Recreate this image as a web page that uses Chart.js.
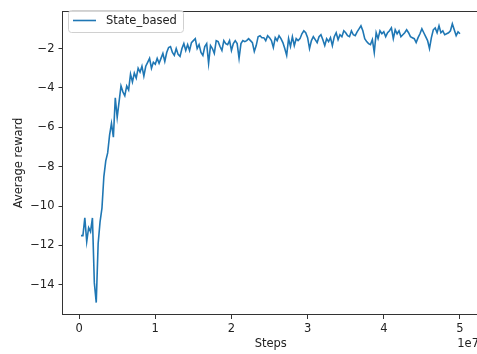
<!DOCTYPE html>
<html lang="en">
<head>
  <meta charset="UTF-8">
  <title>Average reward</title>
  <script src="https://cdn.jsdelivr.net/npm/chart.js"></script>
  <style>
    body {
      margin: 0;
      background: #fff;
      overflow: hidden;
    }
    #wrap {
      width: 477px;
      height: 354px;
      overflow: hidden;
    }
    canvas {
      display: block;
    }
  </style>
</head>
<body>
  <div id="wrap"><canvas id="grafico" width="480" height="354"></canvas></div>

  <script>
    // data
    const seriesLabel = 'State_based';
    const stepInterval = 250000; // one evaluation every 250k steps
    const rewards = [
      -11.5, -11.5, -10.6, -11.8, -11.1, -11.3, -10.6, -13.9, -14.9, -11.9,
      -10.8, -10.1, -8.5, -7.7, -7.3, -6.4, -5.8, -6.5, -4.5, -5.5,
      -4.7, -3.9, -4.2, -4.4, -3.9, -4.1, -3.3, -3.7, -3.25, -3.5,
      -3.0, -3.2, -2.9, -3.4, -2.9, -2.7, -2.5, -3.0, -2.7, -2.8,
      -2.5, -2.75, -2.5, -2.25, -2.65, -2.2, -1.95, -1.9, -2.2, -2.35,
      -2.0, -2.3, -2.4, -2.0, -1.75, -2.1, -1.8, -2.1, -1.7, -1.6,
      -1.5, -2.0, -1.8, -2.2, -2.35, -1.9, -1.75, -2.75, -1.85, -2.0,
      -2.25, -1.6, -1.65, -1.9, -2.1, -1.6, -1.75, -1.8, -1.6, -2.1,
      -1.75, -1.6, -1.75, -2.5, -1.75, -1.6, -1.65, -1.6, -1.5, -1.6,
      -1.7, -2.15, -1.85, -1.4, -1.35, -1.45, -1.45, -1.6, -1.35, -1.45,
      -1.6, -1.95, -1.45, -1.6, -1.35, -1.5, -1.7, -2.0, -2.35, -1.5,
      -1.9, -1.4, -1.85, -1.5, -1.6, -1.5, -1.25, -1.1, -1.2, -1.45,
      -2.0, -1.6, -1.4, -1.55, -1.7, -1.4, -1.3, -1.55, -1.85, -1.5,
      -1.65, -1.45, -1.85, -1.4, -1.2, -1.55, -1.3, -1.4, -1.1, -1.2,
      -1.35, -1.4, -1.1, -1.3, -1.35, -1.15, -1.0, -0.85, -1.1, -1.5,
      -1.65, -1.75, -1.8, -1.55, -2.2, -1.2, -1.5, -1.1, -1.25, -1.15,
      -1.4, -1.2, -1.1, -0.95, -1.5, -1.05, -1.25, -1.1, -1.4, -1.3,
      -1.2, -1.05, -1.2, -1.4, -1.45, -1.5, -1.7, -1.45, -1.25, -1.0,
      -1.2, -1.4, -1.6, -2.0, -1.45, -1.05, -0.95, -1.2, -0.85, -1.2,
      -1.1, -1.3, -1.25, -1.2, -1.1, -0.75, -1.05, -1.35, -1.15, -1.25
    ];
    const xTickValues = [0, 1e7, 2e7, 3e7, 4e7, 5e7];
    const yTickValues = [-14, -12, -10, -8, -6, -4, -2];

    const lineColor = '#1f77b4';
    const textColor = '#222';
    const fonte = { family: 'DejaVu Sans', size: 11.5 };

    // frame around the plot, legend box and the "1e7" offset label
    const molduraPlugin = {
      id: 'moldura',
      afterDraw(chart) {
        const { ctx, chartArea: a } = chart;
        ctx.save();
        ctx.strokeStyle = '#333';
        ctx.lineWidth = 1;
        const l = Math.round(a.left) - 0.5, t = Math.round(a.top) + 0.5;
        const r = Math.round(a.right) - 0.5, b = Math.round(a.bottom) - 0.5;
        ctx.strokeRect(l, t, r - l, b - t);

        // legend
        const lx = 68.5, ly = 10.5, lw = 115, lh = 22;
        ctx.beginPath();
        ctx.roundRect(lx, ly, lw, lh, 3);
        ctx.fillStyle = 'rgba(255,255,255,0.8)';
        ctx.fill();
        ctx.strokeStyle = '#d0d0d0';
        ctx.stroke();
        ctx.beginPath();
        ctx.moveTo(73, 20.5);
        ctx.lineTo(96, 20.5);
        ctx.strokeStyle = lineColor;
        ctx.lineWidth = 1.6;
        ctx.stroke();
        ctx.font = '11.5px "DejaVu Sans"';
        ctx.fillStyle = textColor;
        ctx.textBaseline = 'middle';
        ctx.textAlign = 'left';
        ctx.fillText(chart.data.datasets[0].label, 106, 21);

        // scale offset text
        ctx.textAlign = 'right';
        ctx.fillText('1e7', a.right, 344);
        ctx.restore();
      }
    };

    function gerarGrafico() {
      const pontos = rewards.map((r, i) => ({ x: (i + 1) * stepInterval, y: r }));
      const ctx = document.getElementById('grafico').getContext('2d');

      new Chart(ctx, {
        type: 'line',
        data: {
          datasets: [{
            label: seriesLabel,
            data: pontos,
            borderColor: lineColor,
            borderWidth: 1.6,
            pointRadius: 0,
            tension: 0,
            fill: false
          }]
        },
        options: {
          responsive: false,
          animation: false,
          devicePixelRatio: 1,
          layout: { padding: { top: 5, right: 1, left: 0, bottom: 0 } },
          plugins: {
            legend: { display: false },
            tooltip: { enabled: false }
          },
          scales: {
            x: {
              type: 'linear',
              min: -0.218e7,
              max: 5.25e7,
              afterFit: (s) => { s.height = 39; },
              afterBuildTicks: (s) => { s.ticks = xTickValues.map((v) => ({ value: v })); },
              ticks: {
                callback: (v) => String(v / 1e7),
                font: fonte,
                color: textColor,
                padding: 3,
                maxRotation: 0,
                autoSkip: false
              },
              grid: { drawOnChartArea: false, tickLength: 4, color: '#333' },
              border: { display: false },
              title: {
                display: true,
                text: 'Steps',
                font: fonte,
                color: textColor,
                padding: { top: 0, bottom: 3.2 }
              }
            },
            y: {
              type: 'linear',
              min: -15.53,
              max: -0.09,
              afterFit: (s) => { s.width = 62.5; },
              afterBuildTicks: (s) => { s.ticks = yTickValues.map((v) => ({ value: v })); },
              ticks: {
                callback: (v) => (v < 0 ? '\u2212' + Math.abs(v) : String(v)),
                font: fonte,
                color: textColor,
                padding: 4,
                autoSkip: false
              },
              grid: { drawOnChartArea: false, tickLength: 4, color: '#333' },
              border: { display: false },
              title: {
                display: true,
                text: 'Average reward',
                font: fonte,
                color: textColor,
                padding: { top: 12, bottom: 0 }
              }
            }
          }
        },
        plugins: [molduraPlugin]
      });
    }

    document.addEventListener('DOMContentLoaded', gerarGrafico);
  </script>
</body>
</html>
